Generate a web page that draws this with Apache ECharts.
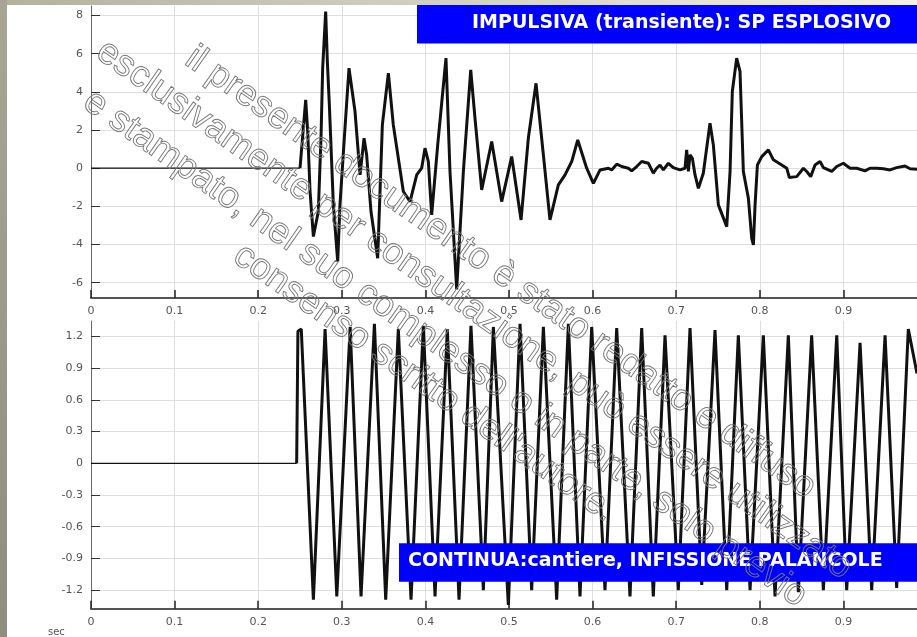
<!DOCTYPE html>
<html>
<head>
<meta charset="utf-8">
<script src="https://cdn.jsdelivr.net/npm/echarts@6/dist/echarts.min.js"></script>
<style>
html,body{margin:0;padding:0;background:#fff;}
#c{width:917px;height:637px;}
</style>
</head>
<body>
<div id="c"></div>
<script>
// ---- data ----
// top panel: impulsive (explosive) signal
const topT = [0, 0.250, 0.254, 0.2568, 0.2592, 0.2620, 0.2660, 0.2719, 0.2751, 0.2771, 0.2807, 0.2827, 0.2851, 0.2899, 0.2951, 0.2978, 0.3030, 0.3086, 0.3158, 0.3218, 0.3266, 0.3297, 0.3349, 0.3429, 0.3485, 0.3557, 0.3616, 0.3676, 0.3736, 0.3816, 0.3896, 0.3955, 0.3995, 0.4035, 0.4075, 0.4147, 0.4246, 0.4294, 0.4374, 0.4454, 0.4542, 0.4593, 0.4673, 0.4793, 0.4912, 0.5032, 0.5144, 0.5231, 0.5323, 0.5411, 0.5490, 0.5590, 0.5670, 0.5750, 0.5822, 0.5929, 0.6009, 0.6089, 0.6188, 0.6228, 0.6288, 0.6348, 0.6427, 0.6467, 0.6527, 0.6587, 0.6667, 0.6726, 0.6766, 0.6806, 0.6846, 0.6906, 0.6965, 0.7045, 0.7105, 0.7125, 0.7145, 0.7165, 0.7193, 0.7225, 0.7265, 0.7324, 0.7404, 0.7444, 0.7504, 0.7604, 0.7644, 0.7671, 0.7723, 0.7763, 0.7803, 0.7863, 0.7903, 0.7923, 0.7943, 0.7971, 0.8023, 0.8102, 0.8162, 0.8262, 0.8322, 0.8353, 0.8441, 0.8521, 0.8561, 0.8609, 0.8660, 0.8720, 0.8760, 0.8860, 0.8920, 0.8999, 0.9079, 0.9159, 0.9258, 0.9318, 0.9398, 0.9478, 0.9557, 0.9637, 0.9737, 0.9797, 0.9880];
const topV = [0, 0, 2.10, 3.58, 1.92, -1.22, -3.58, -2.27, 1.57, 5.24, 8.21, 5.59, 3.32, -1.92, -4.89, -1.92, 1.57, 5.24, 2.97, -0.35, 1.57, 0.70, -2.27, -4.72, 2.27, 4.98, 2.27, 0.52, -1.22, -1.75, -0.35, 0, 1.05, 0.35, -2.45, 1.22, 5.77, -0.17, -6.35, -0.17, 5.15, 2.62, -1.14, 1.40, -1.75, 0.61, -2.71, 1.57, 4.45, 0.70, -2.71, -0.87, -0.35, 0.35, 1.48, 0, -0.79, -0.09, 0, -0.09, 0.21, 0.09, 0, -0.14, 0.09, 0.35, 0.26, -0.26, 0, 0.17, -0.09, 0.26, 0.03, -0.09, 0, 0.96, -0.17, 0.70, 0.52, -0.35, -1.05, -0.26, 2.36, 1.22, -1.92, -3.06, -0.17, 4.02, 5.77, 5.07, -0.17, -1.57, -3.67, -4.02, -1.92, 0.17, 0.61, 0.96, 0.44, 0.17, 0, -0.49, -0.44, 0, -0.17, -0.44, 0.17, 0.35, 0.03, -0.17, 0.09, 0.26, 0, 0, -0.14, 0, 0, -0.03, -0.09, 0.03, 0.12, -0.03, -0.05];

// bottom panel: continuous (sheet-pile driving) signal, extremes
const botT = [0, 0.246, 0.2475, 0.2515, 0.266, 0.280, 0.294, 0.310, 0.323, 0.339, 0.3525, 0.3676, 0.3828, 0.3975, 0.4115, 0.4262, 0.4402, 0.4545, 0.4693, 0.4813, 0.4992, 0.5132, 0.5271, 0.5411, 0.557, 0.571, 0.5849, 0.5989, 0.6148, 0.6288, 0.6447, 0.6587, 0.6726, 0.6866, 0.7025, 0.7165, 0.7305, 0.7464, 0.7604, 0.7743, 0.7883, 0.8042, 0.8182, 0.8341, 0.8461, 0.862, 0.876, 0.892, 0.9039, 0.9199, 0.9338, 0.9498, 0.9637, 0.9776, 0.988];
const botV = [0, 0, 1.25, 1.27, -1.29, 1.27, -1.26, 1.29, -1.26, 1.32, -1.29, 1.27, -1.29, 1.30, -1.26, 1.27, -1.29, 1.30, -1.20, 1.29, -1.34, 1.32, -1.20, 1.29, -1.29, 1.32, -1.26, 1.29, -1.20, 1.28, -1.26, 1.28, -1.26, 1.21, -1.20, 1.28, -1.15, 1.26, -1.20, 1.21, -1.20, 1.21, -1.26, 1.21, -1.22, 1.21, -1.20, 1.21, -1.20, 1.14, -1.20, 1.21, -1.18, 1.27, 0.85];

// tick labels
const xTicks = [0, 0.1, 0.2, 0.3, 0.4, 0.5, 0.6, 0.7, 0.8, 0.9];
const topYTicks = [-6, -4, -2, 0, 2, 4, 6, 8];
const botYTicks = [-1.2, -0.9, -0.6, -0.3, 0, 0.3, 0.6, 0.9, 1.2];

const titleTop = 'IMPULSIVA (transiente): SP ESPLOSIVO';
const titleBot = 'CONTINUA:cantiere, INFISSIONE PALANCOLE';
const xUnit = 'sec';
const watermark = [
  'il presente documento è stato redatto e diffuso',
  'esclusivamente per consultazione, può essere utilizzato',
  'e stampato, nel suo complesso o in parte, solo previo',
  "consenso scritto dell'autore."
];

// ---- chart ----
const zip = (a, b) => a.map((t, i) => [t, b[i]]);
const fmt1 = v => (v === 0 ? '0' : v.toFixed(1));
const labelStyle = { color: '#555', fontSize: 11, fontFamily: 'DejaVu Sans' };

function xAxis(gi) {
  return {
    type: 'value', gridIndex: gi, min: 0, max: 0.988,
    axisLine: { show: true, onZero: false, lineStyle: { color: '#555', width: 2 } },
    axisTick: { show: true, inside: true, length: 8, lineStyle: { color: '#222', width: 1.5 }, customValues: xTicks },
    axisLabel: { ...labelStyle, margin: 8, customValues: xTicks, formatter: fmt1 },
    splitLine: { show: true, lineStyle: { color: '#dedede', width: 1 } }
  };
}
function yAxis(gi, min, max, ticks, fmt) {
  return {
    type: 'value', gridIndex: gi, min: min, max: max,
    axisLine: { show: true, onZero: false, lineStyle: { color: '#666', width: 1 } },
    axisTick: { show: true, inside: true, length: 9, lineStyle: { color: '#333', width: 1 }, customValues: ticks },
    axisLabel: { ...labelStyle, margin: 8, customValues: ticks, formatter: fmt },
    splitLine: { show: true, lineStyle: { color: '#dedede', width: 1 } }
  };
}

const W = 917;
const wmGraphics = watermark.map((s, i) => {
  const pos = [[189, 55], [100, 48], [87, 98], [237, 252]][i];
  return {
    type: 'text', x: pos[0], y: pos[1], rotation: -35 * Math.PI / 180, z: 200, silent: true,
    style: {
      text: s, fill: 'rgba(255,255,255,0)', stroke: '#777', lineWidth: 0.9,
      font: '37px "Liberation Sans", Arial, sans-serif', align: 'left', verticalAlign: 'middle'
    }
  };
});

// pre-onset flat part is drawn thin, the signal thick
const onsetTop = 2, onsetBot = 2;
const chart = echarts.init(document.getElementById('c'), null, { renderer: 'canvas' });
chart.setOption({
  animation: false,
  backgroundColor: '#fff',
  grid: [
    { left: 91, top: 6, width: W - 91, height: 292 },
    { left: 91, top: 320.6, width: W - 91, height: 288.1 }
  ],
  xAxis: [xAxis(0), xAxis(1)],
  yAxis: [
    yAxis(0, -6.8, 8.5, topYTicks, v => String(v)),
    yAxis(1, -1.376, 1.35, botYTicks, fmt1)
  ],
  series: [
    { type: 'line', xAxisIndex: 0, yAxisIndex: 0, data: zip(topT, topV).slice(0, onsetTop), showSymbol: false,
      lineStyle: { color: '#111', width: 1.3 }, z: 10 },
    { type: 'line', xAxisIndex: 0, yAxisIndex: 0, data: zip(topT, topV).slice(onsetTop - 1), showSymbol: false,
      lineStyle: { color: '#111', width: 3 }, z: 10 },
    { type: 'line', xAxisIndex: 1, yAxisIndex: 1, data: zip(botT, botV).slice(0, onsetBot), showSymbol: false,
      lineStyle: { color: '#111', width: 1.3 }, z: 10 },
    { type: 'line', xAxisIndex: 1, yAxisIndex: 1, data: zip(botT, botV).slice(onsetBot - 1), showSymbol: false,
      lineStyle: { color: '#111', width: 3 }, z: 10 }
  ],
  graphic: [
    { type: 'rect', shape: { x: 0, y: 0, width: W, height: 5 }, z: 90, silent: true,
      style: { fill: new echarts.graphic.LinearGradient(0, 0, 1, 0, [{ offset: 0, color: '#b3b19e' }, { offset: 1, color: '#f5f2e4' }]) } },
    { type: 'rect', shape: { x: 0, y: 0, width: 7, height: 637 }, z: 91, silent: true,
      style: { fill: new echarts.graphic.LinearGradient(0, 0, 0, 1, [{ offset: 0, color: '#a8a693' }, { offset: 1, color: '#8f8d7e' }]) } },
    // the lower panel hides the bottom half of the upper panel's tick labels
    { type: 'rect', shape: { x: 7, y: 314.5, width: W - 7, height: 6 }, z: 80, silent: true, style: { fill: '#fff' } },
    { type: 'rect', shape: { x: 417, y: 5, width: W - 417, height: 38.5 }, z: 100, silent: true, style: { fill: '#0000ff' } },
    { type: 'text', x: 472, y: 23.5, z: 101, silent: true,
      style: { text: titleTop, fill: '#fff', font: 'bold 19px "DejaVu Sans", sans-serif', align: 'left', verticalAlign: 'middle' } },
    { type: 'rect', shape: { x: 399, y: 543.3, width: W - 399, height: 38.4 }, z: 100, silent: true, style: { fill: '#0000ff' } },
    { type: 'text', x: 408, y: 561.5, z: 101, silent: true,
      style: { text: titleBot, fill: '#fff', font: 'bold 19px "DejaVu Sans", sans-serif', align: 'left', verticalAlign: 'middle' } },
    { type: 'text', x: 48, y: 632, z: 101, silent: true,
      style: { text: xUnit, fill: '#555', font: '10px "DejaVu Sans", sans-serif', align: 'left', verticalAlign: 'middle' } },
    ...wmGraphics
  ]
});
</script>
</body>
</html>
